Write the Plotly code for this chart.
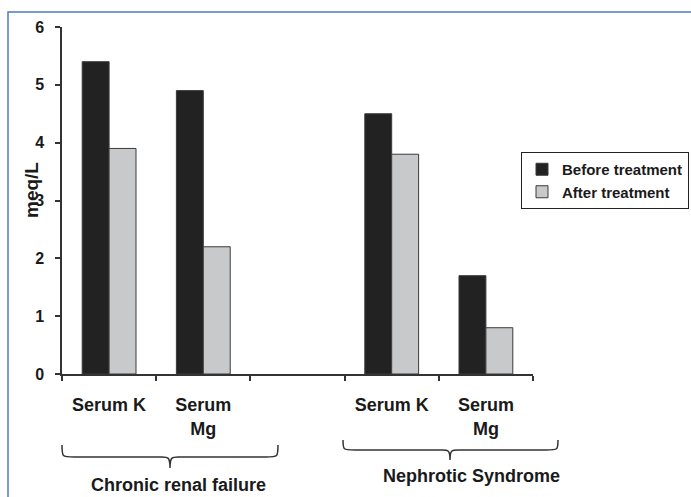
import plotly.graph_objects as go

# ---- data ----
categories = ["Serum K", "Serum<br>Mg", "", "Serum K", "Serum<br>Mg"]
before_treatment = [5.4, 4.9, None, 4.5, 1.7]
after_treatment = [3.9, 2.2, None, 3.8, 0.8]
series_names = ["Before treatment", "After treatment"]
group_labels = ["Chronic renal failure", "Nephrotic Syndrome"]
y_tick_values = [0, 1, 2, 3, 4, 5, 6]
y_title = "meq/L"

W, H = 691, 497
FONT = "Arial, Liberation Sans, sans-serif"
TXT = "#1a1a1a"

def px(x):
    return x / W

def py(y):
    return 1 - y / H

x_pos = list(range(len(categories)))
boundaries = [i - 0.5 for i in range(len(categories) + 1)]

fig = go.Figure()
fig.add_trace(go.Bar(x=x_pos, y=before_treatment, name=series_names[0],
                     marker=dict(color="#222222", line=dict(color="#3a3a3a", width=1))))
fig.add_trace(go.Bar(x=x_pos, y=after_treatment, name=series_names[1],
                     marker=dict(color="#c8c9cb", line=dict(color="#3a3a3a", width=1))))

fig.update_layout(
    width=W, height=H,
    margin=dict(l=0, r=0, t=0, b=0, autoexpand=False),
    paper_bgcolor="white", plot_bgcolor="white",
    barmode="group", bargap=0.4286, bargroupgap=0,
    font=dict(family=FONT, color=TXT),
    showlegend=True,
    legend=dict(x=px(521), y=py(152), xanchor="left", yanchor="top",
                bordercolor="#222222", borderwidth=1, bgcolor="white",
                font=dict(size=15, family=FONT, weight="bold", color=TXT),
                itemwidth=30, tracegroupgap=0),
)

fig.update_xaxes(
    domain=[px(62), px(533)], range=[-0.5, len(categories) - 0.5],
    tickmode="array", tickvals=x_pos, ticktext=categories,
    ticks="", showline=True, linecolor="#333333", linewidth=1.5,
    showgrid=False, zeroline=False,
    tickfont=dict(size=18, family=FONT, weight="bold", color=TXT),
    ticklabelstandoff=14,
    minor=dict(tickmode="array", tickvals=boundaries, ticks="outside",
               ticklen=5, tickcolor="#333333", tickwidth=1.5, showgrid=False),
)
fig.update_yaxes(
    domain=[py(374), py(27)], range=[0, 6],
    tickmode="array", tickvals=y_tick_values,
    ticks="outside", ticklen=5, tickcolor="#333333", tickwidth=1.5,
    showline=True, linecolor="#333333", linewidth=1.5,
    showgrid=False, zeroline=False,
    ticklabelstandoff=8,
    tickfont=dict(size=16, family=FONT, weight="bold", color=TXT),
)

# y-axis title
fig.add_annotation(text=y_title, x=px(31), y=py(190), xref="paper", yref="paper",
                   xanchor="center", yanchor="middle",
                   textangle=-90, showarrow=False,
                   font=dict(size=19, family=FONT, weight="bold", color=TXT))

# group labels
fig.add_annotation(text=group_labels[0], x=px(178), y=py(485), xref="paper", yref="paper",
                   xanchor="center", yanchor="middle",
                   showarrow=False, font=dict(size=18, family=FONT, weight="bold", color=TXT))
fig.add_annotation(text=group_labels[1], x=px(472), y=py(476), xref="paper", yref="paper",
                   xanchor="center", yanchor="middle",
                   showarrow=False, font=dict(size=18, family=FONT, weight="bold", color=TXT))

# curly braces
def brace(x0, x1, ytop, ybot, ytip, xm):
    p = (f"M {px(x0)},{py(ytop)} "
         f"C {px(x0)},{py(ybot)} {px(x0)},{py(ybot)} {px(x0+12)},{py(ybot)} "
         f"L {px(xm-8)},{py(ybot)} "
         f"C {px(xm-2)},{py(ybot)} {px(xm)},{py(ybot)} {px(xm)},{py(ytip)} "
         f"C {px(xm)},{py(ybot)} {px(xm+2)},{py(ybot)} {px(xm+8)},{py(ybot)} "
         f"L {px(x1-12)},{py(ybot)} "
         f"C {px(x1)},{py(ybot)} {px(x1)},{py(ybot)} {px(x1)},{py(ytop)}")
    return dict(type="path", path=p, xref="paper", yref="paper",
                line=dict(color="#333333", width=1.5))

fig.add_shape(**brace(62, 278, 445, 457, 468, 170))
fig.add_shape(**brace(343, 558, 440, 450, 460, 450))

# blue frame
fig.add_shape(type="rect", xref="paper", yref="paper",
              x0=px(8), y0=py(510), x1=px(705), y1=py(12),
              line=dict(color="#4f7ac3", width=1.5))

fig.write_html("out.html", config={"displayModeBar": False},
               post_script="document.body.style.margin='0';")
